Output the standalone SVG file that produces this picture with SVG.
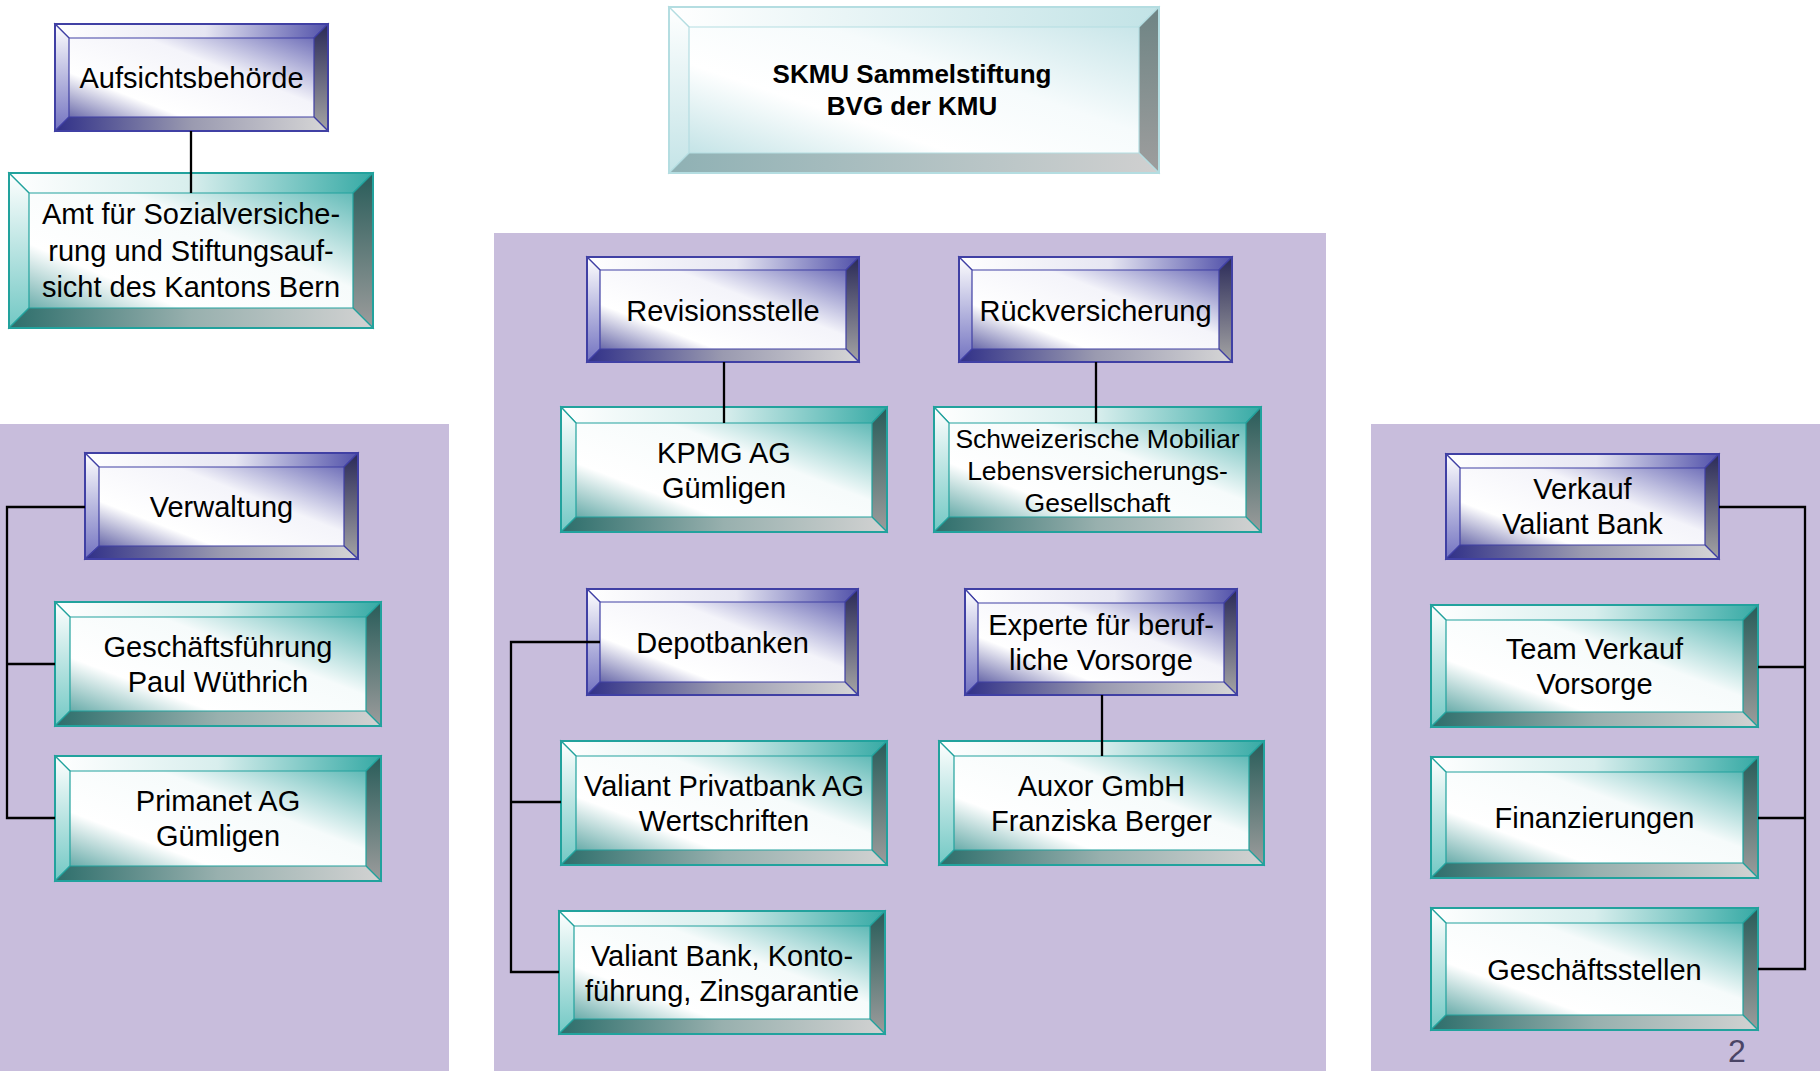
<svg xmlns="http://www.w3.org/2000/svg" width="1820" height="1071" viewBox="0 0 1820 1071">
<defs>
<linearGradient id="pFace" x1="0" y1="1" x2="1" y2="0"><stop offset="0" stop-color="#2c2c86"/><stop offset="0.3" stop-color="#ffffff"/><stop offset="0.6" stop-color="#f4f4fa"/><stop offset="1" stop-color="#4a4aa6"/></linearGradient>
<linearGradient id="pTop" x1="0" y1="0" x2="1" y2="0"><stop offset="0" stop-color="#ffffff"/><stop offset="0.55" stop-color="#e6e6f2"/><stop offset="1" stop-color="#5252aa"/></linearGradient>
<linearGradient id="pLeft" x1="0" y1="0" x2="0" y2="1"><stop offset="0" stop-color="#ffffff"/><stop offset="1" stop-color="#7272c0"/></linearGradient>
<linearGradient id="pRight" x1="0" y1="0" x2="0" y2="1"><stop offset="0" stop-color="#2a2a58"/><stop offset="1" stop-color="#a4a4a4"/></linearGradient>
<linearGradient id="pBot" x1="0" y1="0" x2="1" y2="0"><stop offset="0" stop-color="#303088"/><stop offset="0.5" stop-color="#9a9ab0"/><stop offset="1" stop-color="#d6d6d6"/></linearGradient>
<linearGradient id="tFace" x1="0" y1="1" x2="1" y2="0"><stop offset="0" stop-color="#2f8c89"/><stop offset="0.3" stop-color="#ffffff"/><stop offset="0.6" stop-color="#f6fbfb"/><stop offset="1" stop-color="#38a8a4"/></linearGradient>
<linearGradient id="tTop" x1="0" y1="0" x2="1" y2="0"><stop offset="0" stop-color="#ffffff"/><stop offset="0.5" stop-color="#d8eeed"/><stop offset="1" stop-color="#36aaa5"/></linearGradient>
<linearGradient id="tLeft" x1="0" y1="0" x2="0" y2="1"><stop offset="0" stop-color="#ffffff"/><stop offset="1" stop-color="#72c8c4"/></linearGradient>
<linearGradient id="tRight" x1="0" y1="0" x2="0" y2="1"><stop offset="0" stop-color="#285c59"/><stop offset="1" stop-color="#9c9c9c"/></linearGradient>
<linearGradient id="tBot" x1="0" y1="0" x2="1" y2="0"><stop offset="0" stop-color="#2d6e6b"/><stop offset="0.5" stop-color="#98b0ae"/><stop offset="1" stop-color="#d2d2d2"/></linearGradient>
<linearGradient id="cFace" x1="0" y1="1" x2="1" y2="0"><stop offset="0" stop-color="#b2dbdf"/><stop offset="0.35" stop-color="#ffffff"/><stop offset="0.6" stop-color="#f6fbfc"/><stop offset="1" stop-color="#bde0e4"/></linearGradient>
<linearGradient id="cTop" x1="0" y1="0" x2="1" y2="0"><stop offset="0" stop-color="#ffffff"/><stop offset="1" stop-color="#c2e3e6"/></linearGradient>
<linearGradient id="cLeft" x1="0" y1="0" x2="0" y2="1"><stop offset="0" stop-color="#ffffff"/><stop offset="1" stop-color="#c4e4e7"/></linearGradient>
<linearGradient id="cRight" x1="0" y1="0" x2="0" y2="1"><stop offset="0" stop-color="#6e8484"/><stop offset="1" stop-color="#9e9e9e"/></linearGradient>
<linearGradient id="cBot" x1="0" y1="0" x2="1" y2="0"><stop offset="0" stop-color="#8fb1b4"/><stop offset="1" stop-color="#d0d0d0"/></linearGradient>
<style>
text{font-family:"Liberation Sans",Arial,sans-serif;font-size:29px;fill:#000;text-anchor:middle}
.bold{font-weight:bold;font-size:26px}
.small{font-size:26.5px}
.panel{fill:#c8bddc}
.p .face{fill:url(#pFace)} .p .top{fill:url(#pTop)} .p .left{fill:url(#pLeft)} .p .right{fill:url(#pRight)} .p .bot{fill:url(#pBot)}
.t .face{fill:url(#tFace)} .t .top{fill:url(#tTop)} .t .left{fill:url(#tLeft)} .t .right{fill:url(#tRight)} .t .bot{fill:url(#tBot)}
.c .face{fill:url(#cFace)} .c .top{fill:url(#cTop)} .c .left{fill:url(#cLeft)} .c .right{fill:url(#cRight)} .c .bot{fill:url(#cBot)}
.p polygon,.p rect{stroke:#4040a4;stroke-width:1.2}
.t polygon,.t rect{stroke:#22a29d;stroke-width:1.2}
.c polygon,.c rect{stroke:#b4dde1;stroke-width:1.2}
.p .out,.t .out,.c .out{fill:none;stroke-width:2}
.conn path{fill:none;stroke:#000;stroke-width:2.3}
.pg{font-size:32px;fill:#4a4466}
</style>
</defs>
<rect width="1820" height="1071" fill="#ffffff"/>
<g id="panels">
<rect class="panel" x="0" y="424" width="449" height="647"/>
<rect class="panel" x="494" y="233" width="832" height="838"/>
<rect class="panel" x="1371" y="424" width="449" height="647"/>
</g>
<g id="aufsicht" class="p">
<rect class="face" x="55" y="24" width="273" height="107"/>
<polygon class="top" points="55,24 328,24 314,38 69,38"/>
<polygon class="left" points="55,24 69,38 69,117 55,131"/>
<polygon class="right" points="328,24 314,38 314,117 328,131"/>
<polygon class="bot" points="55,131 328,131 314,117 69,117"/>
<rect class="out" x="55" y="24" width="273" height="107"/>
<text x="191.5" y="88">Aufsichtsbehörde</text>
</g>
<g id="amt" class="t">
<rect class="face" x="9" y="173" width="364" height="155"/>
<polygon class="top" points="9,173 373,173 353,193 29,193"/>
<polygon class="left" points="9,173 29,193 29,308 9,328"/>
<polygon class="right" points="373,173 353,193 353,308 373,328"/>
<polygon class="bot" points="9,328 373,328 353,308 29,308"/>
<rect class="out" x="9" y="173" width="364" height="155"/>
<text x="191" y="224">Amt für Sozialversiche-</text>
<text x="191" y="260.5">rung und Stiftungsauf-</text>
<text x="191" y="297">sicht des Kantons Bern</text>
</g>
<g id="skmu" class="c">
<rect class="face" x="669" y="7" width="490" height="166"/>
<polygon class="top" points="669,7 1159,7 1139,27 689,27"/>
<polygon class="left" points="669,7 689,27 689,153 669,173"/>
<polygon class="right" points="1159,7 1139,27 1139,153 1159,173"/>
<polygon class="bot" points="669,173 1159,173 1139,153 689,153"/>
<rect class="out" x="669" y="7" width="490" height="166"/>
<text class="bold" x="912" y="83">SKMU Sammelstiftung</text>
<text class="bold" x="912" y="115">BVG der KMU</text>
</g>
<g id="revision" class="p">
<rect class="face" x="587" y="257" width="272" height="105"/>
<polygon class="top" points="587,257 859,257 846,270 600,270"/>
<polygon class="left" points="587,257 600,270 600,349 587,362"/>
<polygon class="right" points="859,257 846,270 846,349 859,362"/>
<polygon class="bot" points="587,362 859,362 846,349 600,349"/>
<rect class="out" x="587" y="257" width="272" height="105"/>
<text x="723" y="320.5">Revisionsstelle</text>
</g>
<g id="rueck" class="p">
<rect class="face" x="959" y="257" width="273" height="105"/>
<polygon class="top" points="959,257 1232,257 1219,270 972,270"/>
<polygon class="left" points="959,257 972,270 972,349 959,362"/>
<polygon class="right" points="1232,257 1219,270 1219,349 1232,362"/>
<polygon class="bot" points="959,362 1232,362 1219,349 972,349"/>
<rect class="out" x="959" y="257" width="273" height="105"/>
<text x="1095.5" y="320.5">Rückversicherung</text>
</g>
<g id="kpmg" class="t">
<rect class="face" x="561" y="407" width="326" height="125"/>
<polygon class="top" points="561,407 887,407 872,423 576,423"/>
<polygon class="left" points="561,407 576,423 576,517 561,532"/>
<polygon class="right" points="887,407 872,423 872,517 887,532"/>
<polygon class="bot" points="561,532 887,532 872,517 576,517"/>
<rect class="out" x="561" y="407" width="326" height="125"/>
<text x="724" y="462.5">KPMG AG</text>
<text x="724" y="497.5">Gümligen</text>
</g>
<g id="schweiz" class="t">
<rect class="face" x="934" y="407" width="327" height="125"/>
<polygon class="top" points="934,407 1261,407 1246,423 949,423"/>
<polygon class="left" points="934,407 949,423 949,517 934,532"/>
<polygon class="right" points="1261,407 1246,423 1246,517 1261,532"/>
<polygon class="bot" points="934,532 1261,532 1246,517 949,517"/>
<rect class="out" x="934" y="407" width="327" height="125"/>
<text class="small" x="1097.5" y="448">Schweizerische Mobiliar</text>
<text class="small" x="1097.5" y="480">Lebensversicherungs-</text>
<text class="small" x="1097.5" y="512">Gesellschaft</text>
</g>
<g id="depot" class="p">
<rect class="face" x="587" y="589" width="271" height="106"/>
<polygon class="top" points="587,589 858,589 845,602 600,602"/>
<polygon class="left" points="587,589 600,602 600,682 587,695"/>
<polygon class="right" points="858,589 845,602 845,682 858,695"/>
<polygon class="bot" points="587,695 858,695 845,682 600,682"/>
<rect class="out" x="587" y="589" width="271" height="106"/>
<text x="722.5" y="652.5">Depotbanken</text>
</g>
<g id="experte" class="p">
<rect class="face" x="965" y="589" width="272" height="106"/>
<polygon class="top" points="965,589 1237,589 1224,603 978,603"/>
<polygon class="left" points="965,589 978,603 978,682 965,695"/>
<polygon class="right" points="1237,589 1224,603 1224,682 1237,695"/>
<polygon class="bot" points="965,695 1237,695 1224,682 978,682"/>
<rect class="out" x="965" y="589" width="272" height="106"/>
<text x="1101" y="635">Experte für beruf-</text>
<text x="1101" y="670">liche Vorsorge</text>
</g>
<g id="valiantpriv" class="t">
<rect class="face" x="561" y="741" width="326" height="124"/>
<polygon class="top" points="561,741 887,741 872,756 576,756"/>
<polygon class="left" points="561,741 576,756 576,850 561,865"/>
<polygon class="right" points="887,741 872,756 872,850 887,865"/>
<polygon class="bot" points="561,865 887,865 872,850 576,850"/>
<rect class="out" x="561" y="741" width="326" height="124"/>
<text x="724" y="796">Valiant Privatbank AG</text>
<text x="724" y="831">Wertschriften</text>
</g>
<g id="auxor" class="t">
<rect class="face" x="939" y="741" width="325" height="124"/>
<polygon class="top" points="939,741 1264,741 1249,756 954,756"/>
<polygon class="left" points="939,741 954,756 954,850 939,865"/>
<polygon class="right" points="1264,741 1249,756 1249,850 1264,865"/>
<polygon class="bot" points="939,865 1264,865 1249,850 954,850"/>
<rect class="out" x="939" y="741" width="325" height="124"/>
<text x="1101.5" y="796">Auxor GmbH</text>
<text x="1101.5" y="831">Franziska Berger</text>
</g>
<g id="valiantbank" class="t">
<rect class="face" x="559" y="911" width="326" height="123"/>
<polygon class="top" points="559,911 885,911 870,926 574,926"/>
<polygon class="left" points="559,911 574,926 574,1019 559,1034"/>
<polygon class="right" points="885,911 870,926 870,1019 885,1034"/>
<polygon class="bot" points="559,1034 885,1034 870,1019 574,1019"/>
<rect class="out" x="559" y="911" width="326" height="123"/>
<text x="722" y="966">Valiant Bank, Konto-</text>
<text x="722" y="1001">führung, Zinsgarantie</text>
</g>
<g id="verwaltung" class="p">
<rect class="face" x="85" y="453" width="273" height="106"/>
<polygon class="top" points="85,453 358,453 344,467 99,467"/>
<polygon class="left" points="85,453 99,467 99,546 85,559"/>
<polygon class="right" points="358,453 344,467 344,546 358,559"/>
<polygon class="bot" points="85,559 358,559 344,546 99,546"/>
<rect class="out" x="85" y="453" width="273" height="106"/>
<text x="221.5" y="516.5">Verwaltung</text>
</g>
<g id="gf" class="t">
<rect class="face" x="55" y="602" width="326" height="124"/>
<polygon class="top" points="55,602 381,602 366,617 70,617"/>
<polygon class="left" points="55,602 70,617 70,711 55,726"/>
<polygon class="right" points="381,602 366,617 366,711 381,726"/>
<polygon class="bot" points="55,726 381,726 366,711 70,711"/>
<rect class="out" x="55" y="602" width="326" height="124"/>
<text x="218" y="657">Geschäftsführung</text>
<text x="218" y="692">Paul Wüthrich</text>
</g>
<g id="primanet" class="t">
<rect class="face" x="55" y="756" width="326" height="125"/>
<polygon class="top" points="55,756 381,756 366,771 70,771"/>
<polygon class="left" points="55,756 70,771 70,866 55,881"/>
<polygon class="right" points="381,756 366,771 366,866 381,881"/>
<polygon class="bot" points="55,881 381,881 366,866 70,866"/>
<rect class="out" x="55" y="756" width="326" height="125"/>
<text x="218" y="811">Primanet AG</text>
<text x="218" y="846">Gümligen</text>
</g>
<g id="verkauf" class="p">
<rect class="face" x="1446" y="454" width="273" height="105"/>
<polygon class="top" points="1446,454 1719,454 1705,468 1460,468"/>
<polygon class="left" points="1446,454 1460,468 1460,545 1446,559"/>
<polygon class="right" points="1719,454 1705,468 1705,545 1719,559"/>
<polygon class="bot" points="1446,559 1719,559 1705,545 1460,545"/>
<rect class="out" x="1446" y="454" width="273" height="105"/>
<text x="1582.5" y="499">Verkauf</text>
<text x="1582.5" y="534">Valiant Bank</text>
</g>
<g id="team" class="t">
<rect class="face" x="1431" y="605" width="327" height="122"/>
<polygon class="top" points="1431,605 1758,605 1743,620 1446,620"/>
<polygon class="left" points="1431,605 1446,620 1446,712 1431,727"/>
<polygon class="right" points="1758,605 1743,620 1743,712 1758,727"/>
<polygon class="bot" points="1431,727 1758,727 1743,712 1446,712"/>
<rect class="out" x="1431" y="605" width="327" height="122"/>
<text x="1594.5" y="659">Team Verkauf</text>
<text x="1594.5" y="694">Vorsorge</text>
</g>
<g id="finanz" class="t">
<rect class="face" x="1431" y="757" width="327" height="121"/>
<polygon class="top" points="1431,757 1758,757 1743,772 1446,772"/>
<polygon class="left" points="1431,757 1446,772 1446,863 1431,878"/>
<polygon class="right" points="1758,757 1743,772 1743,863 1758,878"/>
<polygon class="bot" points="1431,878 1758,878 1743,863 1446,863"/>
<rect class="out" x="1431" y="757" width="327" height="121"/>
<text x="1594.5" y="828">Finanzierungen</text>
</g>
<g id="geschaeftsstellen" class="t">
<rect class="face" x="1431" y="908" width="327" height="122"/>
<polygon class="top" points="1431,908 1758,908 1743,923 1446,923"/>
<polygon class="left" points="1431,908 1446,923 1446,1015 1431,1030"/>
<polygon class="right" points="1758,908 1743,923 1743,1015 1758,1030"/>
<polygon class="bot" points="1431,1030 1758,1030 1743,1015 1446,1015"/>
<rect class="out" x="1431" y="908" width="327" height="122"/>
<text x="1594.5" y="979.5">Geschäftsstellen</text>
</g>
<g id="connectors" class="conn">
<path d="M191 131V193"/>
<path d="M724 362V423"/>
<path d="M1096 362V423"/>
<path d="M1102 695V756"/>
<path d="M600 642H511V972H559"/>
<path d="M511 802H561"/>
<path d="M85 507H7V818H55"/>
<path d="M7 664H55"/>
<path d="M1719 507H1805V969H1758"/>
<path d="M1758 667H1805"/>
<path d="M1758 818H1805"/>
</g>
<text class="pg" x="1737" y="1062">2</text>
</svg>
